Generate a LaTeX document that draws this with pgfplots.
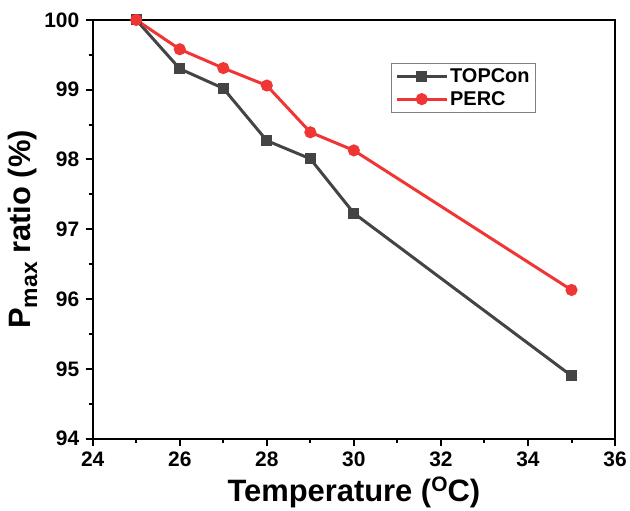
\documentclass[border=0pt]{standalone}
\usepackage{pgfplots}
\pgfplotsset{compat=1.18}
\usepackage{fontspec}
\setmainfont{Liberation Sans}
\definecolor{topc}{RGB}{68,68,68}
\definecolor{perc}{RGB}{240,53,53}
\begin{document}
\begin{tikzpicture}
\begin{axis}[
  name=ax,
  scale only axis,
  width=524pt, height=420pt,
  xmin=24, xmax=36, ymin=94, ymax=100,
  xtick={24,26,...,36}, ytick={94,95,...,100},
  xticklabels={24,26,28,30,32,34,36},
  yticklabels={94,95,96,97,98,99,100},
  minor x tick num=1, minor y tick num=1,
  tick align=outside, xtick pos=bottom, ytick pos=left,
  major tick length=7pt, minor tick length=4pt,
  axis line style={line width=2pt},
  every tick/.style={line width=2pt, black},
  ticklabel style={font=\fontsize{21}{24}\selectfont\bfseries},
  xticklabel style={yshift=-3pt},
  yticklabel style={xshift=-3pt},
  xlabel={Temperature (\raisebox{0.6ex}{\fontsize{21}{22}\selectfont O}C)},
  ylabel={P\raisebox{-0.4ex}{\fontsize{23}{24}\selectfont max} ratio (\%)},
  label style={font=\fontsize{31}{34}\selectfont\bfseries},
  xlabel style={yshift=-3pt},
  ylabel style={yshift=0pt},
  legend style={at={(0.571,0.898)}, anchor=north west, draw=gray, line width=0.8pt,
    font=\fontsize{20}{23}\selectfont\bfseries, row sep=3pt, inner sep=4pt},
  legend cell align=left,
  legend image code/.code={\draw[#1, line width=3pt] (0pt,0pt) -- (50pt,0pt); \draw[#1, only marks] plot coordinates {(25pt,0pt)};},
]
\addplot[topc, line width=3pt, mark=square*, mark size=4pt] coordinates {
(25,100) (26,99.30) (27,99.02) (28,98.27) (29,98.01) (30,97.23) (35,94.90)};
\addlegendentry{TOPCon}
\addplot[perc, line width=3pt, mark=*, mark size=4.5pt] coordinates {
(25,100) (26,99.58) (27,99.31) (28,99.06) (29,98.39) (30,98.13) (35,96.13)};
\addlegendentry{PERC}
\end{axis}
\useasboundingbox (ax.south west) ++(-93pt,-69pt) rectangle ++(630pt,509pt);
\end{tikzpicture}
\end{document}
